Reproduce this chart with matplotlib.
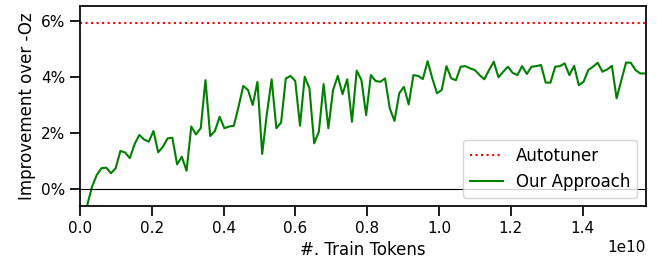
import numpy as np
import matplotlib
matplotlib.use("Agg")
import matplotlib.pyplot as plt
import seaborn as sns
from matplotlib.ticker import FuncFormatter

# improvement over -Oz (%), one value per eval step
ours = [-0.57, 0.08, 0.50, 0.74, 0.76, 0.56, 0.74, 1.36, 1.30, 1.10,
        1.60, 1.93, 1.77, 1.69, 2.07, 1.31, 1.51, 1.81, 1.83, 0.88,
        1.15, 0.65, 2.23, 1.95, 2.17, 3.89, 1.89, 2.07, 2.58, 2.17,
        2.23, 2.26, 2.94, 3.68, 3.54, 3.00, 3.83, 1.25, 2.70, 3.92,
        2.17, 2.37, 3.95, 4.04, 3.86, 2.26, 4.01, 3.60, 1.63, 2.05,
        3.75, 2.17, 3.54, 4.04, 3.39, 3.92, 2.40, 4.23, 3.89, 2.64,
        4.07, 3.86, 3.83, 3.95, 2.88, 2.43, 3.42, 3.65, 3.02, 4.07,
        4.04, 3.93, 4.57, 3.95, 3.42, 3.54, 4.39, 3.95, 3.89, 4.37,
        4.39, 4.31, 4.25, 4.07, 3.92, 4.25, 4.55, 3.99, 4.19, 4.37,
        4.15, 4.07, 4.39, 4.11, 4.37, 4.39, 4.43, 3.80, 3.80, 4.37,
        4.39, 4.49, 4.07, 4.40, 3.71, 3.83, 4.25, 4.37, 4.51, 4.19,
        4.27, 4.40, 3.24, 3.89, 4.52, 4.51, 4.25, 4.13, 4.13]
autotuner = 5.92
first_tokens = 0.0203e10
last_tokens = 1.574e10

tokens = np.linspace(first_tokens, last_tokens, len(ours))

sns.set_context("notebook")

fig = plt.figure(figsize=(6.57, 2.67), dpi=100)
ax = fig.add_axes([0.1218, 0.2285, 0.861, 0.749])

ax.axhline(autotuner, color='red', linestyle=':', linewidth=1.5, label='Autotuner')
ax.plot(tokens, ours, color='green', linewidth=1.5, label='Our Approach')
ax.axhline(0, color='black', linewidth=0.8)

ax.set_xlim(0, 1.576e10)
ax.set_ylim(-0.61, 6.54)
ax.set_yticks([0, 2, 4, 6])
ax.yaxis.set_major_formatter(FuncFormatter(lambda v, p: "{:.0f}%".format(v)))
ax.tick_params(length=7, width=1.25)
ax.set_xlabel('#. Train Tokens')
ax.set_ylabel('Improvement over -Oz')
ax.legend(loc='lower right', fontsize=12)

fig.savefig('out.png', dpi=100)
